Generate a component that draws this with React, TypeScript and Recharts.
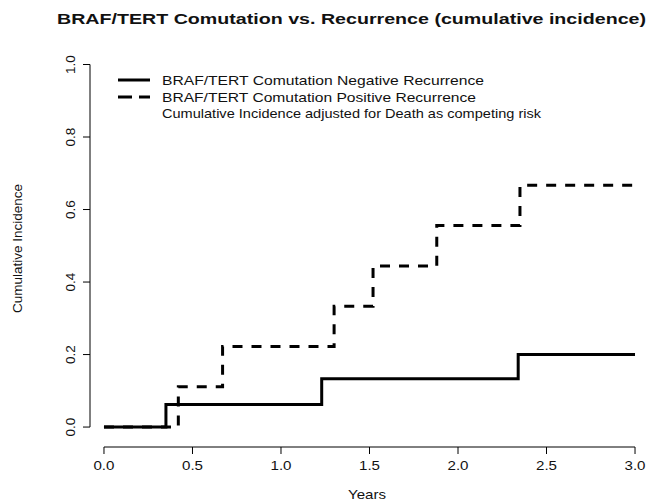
import React from "react";
import { LineChart, Line, XAxis, YAxis, ReferenceLine, Label } from "recharts";

const negTimes = [0, 0.35, 1.23, 2.34, 3.0];
const negValues = [0, 0.0625, 0.1333, 0.2, 0.2];
const posTimes = [0, 0.42, 0.67, 1.3, 1.52, 1.88, 2.35, 3.0];
const posValues = [0, 0.111, 0.222, 0.333, 0.444, 0.556, 0.667, 0.667];
const xTicks = [0, 0.5, 1.0, 1.5, 2.0, 2.5, 3.0];
const yTicks = [0, 0.2, 0.4, 0.6, 0.8, 1.0];
const title = "BRAF/TERT Comutation vs. Recurrence (cumulative incidence)";
const legendItems = [
  "BRAF/TERT Comutation Negative Recurrence",
  "BRAF/TERT Comutation Positive Recurrence",
  "Cumulative Incidence adjusted for Death as competing risk",
];
const legendWidths = [322, 314, 379];

const negData = negTimes.map((t, i) => ({ t, v: negValues[i] }));
const posData = posTimes.map((t, i) => ({ t, v: posValues[i] }));

const X_MIN = -0.079;
const X_MAX = 3.079;
const Y_MIN = -0.055;
const Y_MAX = 1.04;

const font = "Arial, 'Liberation Sans', sans-serif";

const YTick = (props: any) => {
  const { x, y, payload } = props;
  return (
    <text
      x={x - 10}
      y={y}
      transform={`rotate(-90, ${x - 10}, ${y})`}
      textAnchor="middle"
      fontSize={13.5}
      fontFamily={font}
      fill="#111"
      dy={4}
    >
      {Number(payload.value).toFixed(1)}
    </text>
  );
};

const XTick = (props: any) => {
  const { x, y, payload } = props;
  return (
    <text
      x={x}
      y={y + 14}
      textAnchor="middle"
      fontSize={13}
      fontFamily={font}
      fill="#111"
      textLength={21}
      lengthAdjust="spacingAndGlyphs"
    >
      {Number(payload.value).toFixed(1)}
    </text>
  );
};

export default function App() {
  return (
    <div style={{ position: "absolute", left: 0, top: 0, width: 649, height: 502, background: "#fff" }}>
      <LineChart
        width={649}
        height={502}
        margin={{ top: 50, right: 0, bottom: 0, left: 0 }}
      >
        <XAxis
          type="number"
          dataKey="t"
          domain={[X_MIN, X_MAX]}
          ticks={xTicks}
          allowDataOverflow
          axisLine={false}
          tickLine={{ stroke: "#000", strokeWidth: 1 }}
          tickSize={7}
          height={55}
          tick={<XTick />}
        />
        <YAxis
          type="number"
          domain={[Y_MIN, Y_MAX]}
          ticks={yTicks}
          allowDataOverflow
          axisLine={false}
          tickLine={{ stroke: "#000", strokeWidth: 1 }}
          tickSize={7}
          width={90}
          tick={<YTick />}
        >
          <Label
            value="Cumulative Incidence"
            angle={-90}
            position="insideLeft"
            offset={17}
            style={{ textAnchor: "middle", fontSize: 13.5, fontFamily: font, fill: "#111" }}
          />
        </YAxis>
        <ReferenceLine
          segment={[{ x: 0, y: Y_MIN }, { x: 3, y: Y_MIN }]}
          stroke="#000"
          strokeWidth={1}
          ifOverflow="visible"
        />
        <ReferenceLine
          segment={[{ x: X_MIN, y: 0 }, { x: X_MIN, y: 1 }]}
          stroke="#000"
          strokeWidth={1}
          ifOverflow="visible"
        />
        <Line
          data={negData}
          dataKey="v"
          type="stepAfter"
          stroke="#000"
          strokeWidth={3}
          dot={false}
          isAnimationActive={false}
        />
        <Line
          data={posData}
          dataKey="v"
          type="stepAfter"
          stroke="#000"
          strokeWidth={3}
          strokeDasharray="10 9"
          dot={false}
          isAnimationActive={false}
        />
      </LineChart>
      <svg style={{ position: "absolute", left: 0, top: 0, pointerEvents: "none" }} width={649} height={502}>
        <text
          x={57}
          y={24}
          fontSize={15.5}
          fontWeight="bold"
          fontFamily={font}
          fill="#111"
          textLength={589}
          lengthAdjust="spacingAndGlyphs"
        >
          {title}
        </text>
        <text
          x={367}
          y={499}
          textAnchor="middle"
          fontSize={13.5}
          fontFamily={font}
          fill="#111"
          textLength={38}
          lengthAdjust="spacingAndGlyphs"
        >
          Years
        </text>
        <line x1={118} x2={150} y1={80} y2={80} stroke="#000" strokeWidth={3} />
        <line x1={118} x2={150} y1={97} y2={97} stroke="#000" strokeWidth={3} strokeDasharray="14 7" />
        {legendItems.map((s, i) => (
          <text
            key={i}
            x={162}
            y={85 + i * 16.7}
            fontSize={13.5}
            fontFamily={font}
            fill="#111"
            textLength={legendWidths[i]}
            lengthAdjust="spacingAndGlyphs"
          >
            {s}
          </text>
        ))}
      </svg>
    </div>
  );
}
